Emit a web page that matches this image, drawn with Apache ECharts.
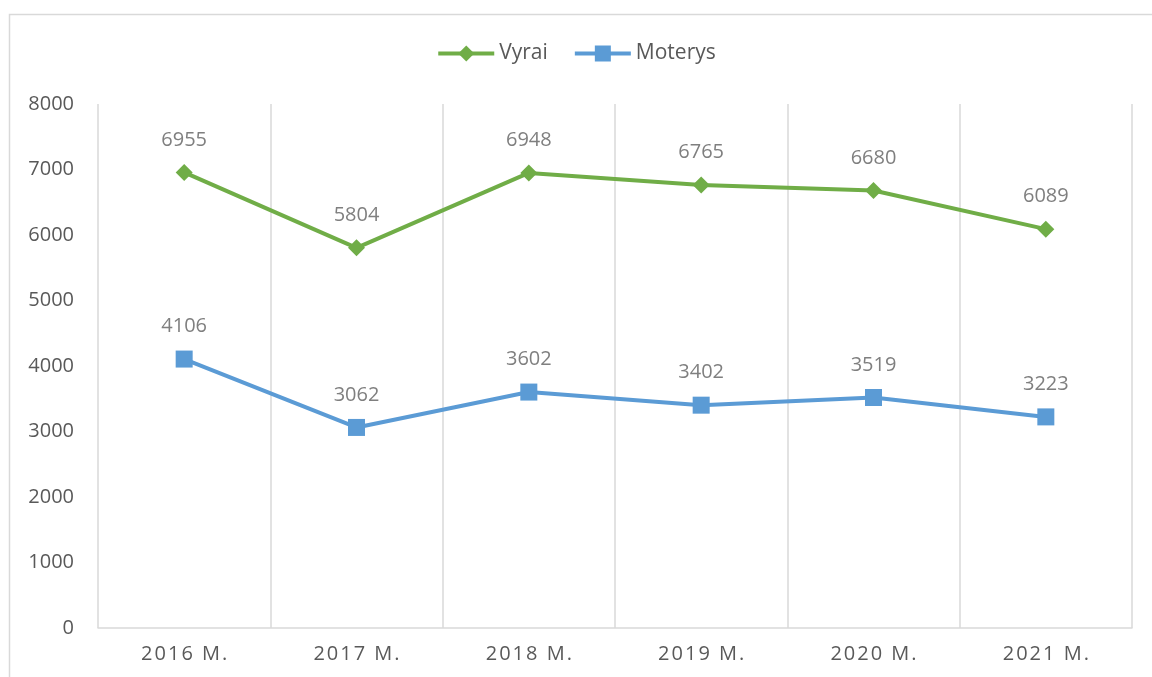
<!DOCTYPE html>
<html>
<head>
<meta charset="utf-8">
<script src="https://cdn.jsdelivr.net/npm/echarts@6/dist/echarts.min.js"></script>
<style>
  html, body { margin: 0; padding: 0; background: #fff; }
  #chart { width: 1152px; height: 677px; }
</style>
</head>
<body>
<div id="chart"></div>
<script>
const years = ['2016 M.', '2017 M.', '2018 M.', '2019 M.', '2020 M.', '2021 M.']
const vyrai = [6955, 5804, 6948, 6765, 6680, 6089]
const moterys = [4106, 3062, 3602, 3402, 3519, 3223]

const font = "'Open Sans', 'Noto Sans', sans-serif"

const chart = echarts.init(document.getElementById('chart'))

const dataLabel = {
  show: true,
  position: 'top',
  distance: 14,
  fontFamily: font,
  fontSize: 20,
  color: '#7f7f7f',
}

chart.setOption({
  animation: false,
  graphic: [
    {
      type: 'rect',
      shape: { x: 9.5, y: 14.5, width: 1160, height: 700 },
      style: { fill: 'none', stroke: '#d9d9d9', lineWidth: 1.5 },
      silent: true,
    },
  ],
  legend: {
    top: 38,
    left: 'center',
    itemWidth: 56,
    itemHeight: 20,
    itemGap: 25,
    lineStyle: { width: 4 },
    textStyle: { fontFamily: font, fontSize: 21, color: '#595959' },
    data: ['Vyrai', 'Moterys'],
  },
  grid: { left: 98, right: 20, top: 104, bottom: 49 },
  xAxis: {
    type: 'category',
    data: years,
    boundaryGap: true,
    axisLine: { lineStyle: { color: '#d9d9d9', width: 1.5 } },
    axisTick: { show: false },
    splitLine: { show: true, lineStyle: { color: '#d9d9d9', width: 1.5 } },
    axisLabel: {
      fontFamily: font,
      fontSize: 20,
      color: '#595959',
      margin: 16,
      // letter-spaced like the original axis labels
      formatter: (v) => v.split('').join('\u200A'),
    },
  },
  yAxis: {
    type: 'value',
    min: 0,
    max: 8000,
    interval: 1000,
    axisLine: { show: false },
    axisTick: { show: false },
    splitLine: { show: false },
    axisLabel: {
      fontFamily: font,
      fontSize: 20,
      color: '#595959',
      margin: 24,
      formatter: (v) => String(v),
    },
  },
  series: [
    {
      name: 'Vyrai',
      type: 'line',
      data: vyrai,
      symbol: 'diamond',
      symbolSize: 17,
      itemStyle: { color: '#70ad47' },
      lineStyle: { width: 4, color: '#70ad47' },
      label: dataLabel,
    },
    {
      name: 'Moterys',
      type: 'line',
      data: moterys,
      symbol: 'rect',
      symbolSize: 17,
      itemStyle: { color: '#5b9bd5' },
      lineStyle: { width: 4, color: '#5b9bd5' },
      label: dataLabel,
    },
  ],
})
</script>
</body>
</html>
